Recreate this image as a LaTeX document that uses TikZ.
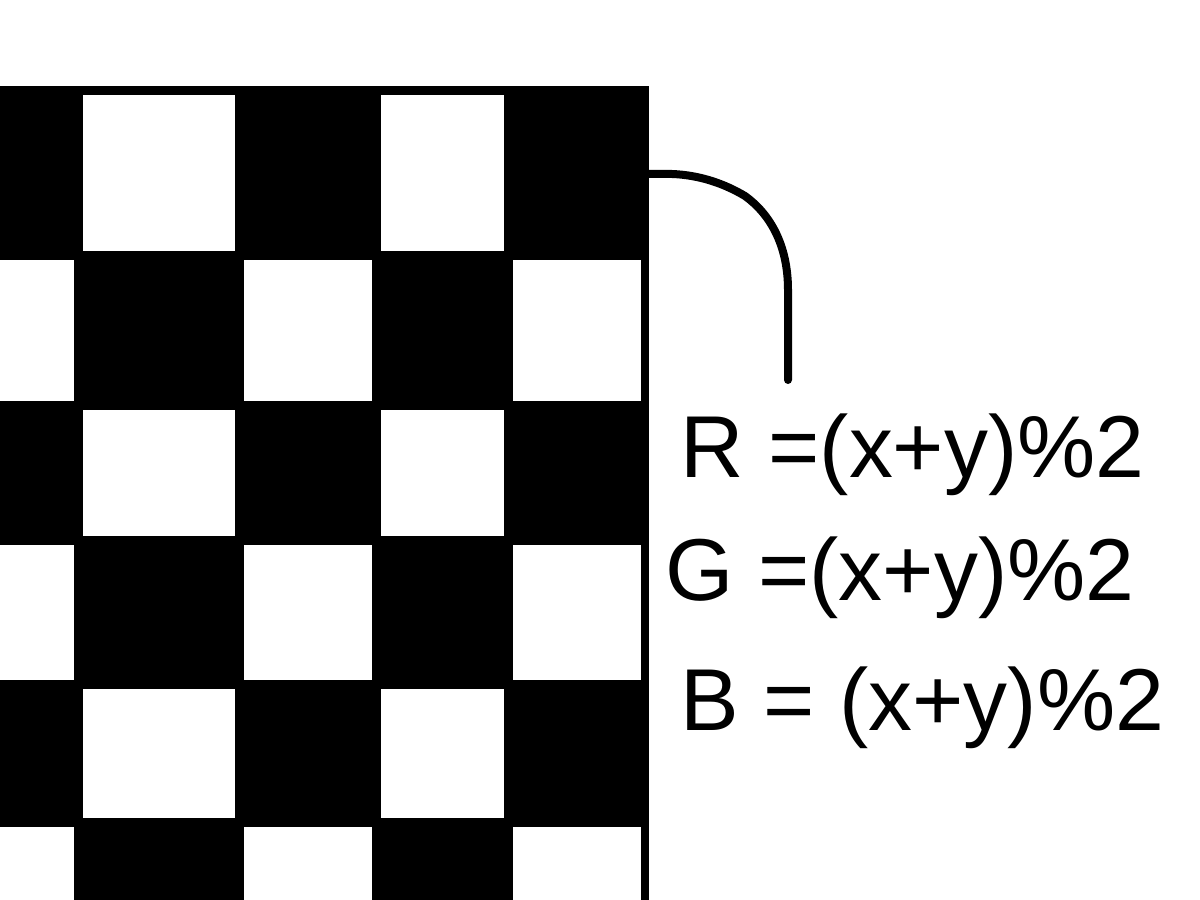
\documentclass[tikz,border=0pt]{standalone}
\usepackage{fontspec}
\setmainfont{Liberation Sans}
\usetikzlibrary{positioning}

\begin{document}
\begin{tikzpicture}[
  x=0.1mm, y=-0.1mm,
  board/.style={fill=black},
  cell/.style={fill=white},
  formula/.style={font=\fontsize{25}{30}\selectfont, inner sep=0pt, anchor=base west},
  lead/.style={line width=0.8mm, line cap=round, line join=round}]
  \useasboundingbox (0,0) rectangle (1200,900);
  \fill[board] (0,86) rectangle (649,900);
  % odd rows
  \foreach \top/\bot in {95/251, 410/536, 689/818}{
    \fill[cell] (83,\top) rectangle (235,\bot);
    \fill[cell] (381,\top) rectangle (504,\bot);
  }
  % even rows
  \foreach \top/\bot in {260/401, 545/680, 827/900}{
    \fill[cell] (0,\top) rectangle (74,\bot);
    \fill[cell] (244,\top) rectangle (372,\bot);
    \fill[cell] (513,\top) rectangle (641,\bot);
  }
  \node[formula] (rform) at (680,477) {R =(x+y)\%2};
  \node[formula, below=12.3mm of rform.base west, anchor=base west, xshift=-1.5mm] (gform) {G =(x+y)\%2};
  \node[formula, below=13mm of gform.base west, anchor=base west, xshift=1.5mm] (bform) {B = (x+y)\%2};
  \coordinate (tap) at (649,174);
  \coordinate (tip) at (788,380);
  \draw[lead] (tap) -- (672,174) .. controls (700,175) and (725,184) .. (745,196)
    .. controls (770,214) and (788,245) .. (788,290) -- (tip);
\end{tikzpicture}
\end{document}
